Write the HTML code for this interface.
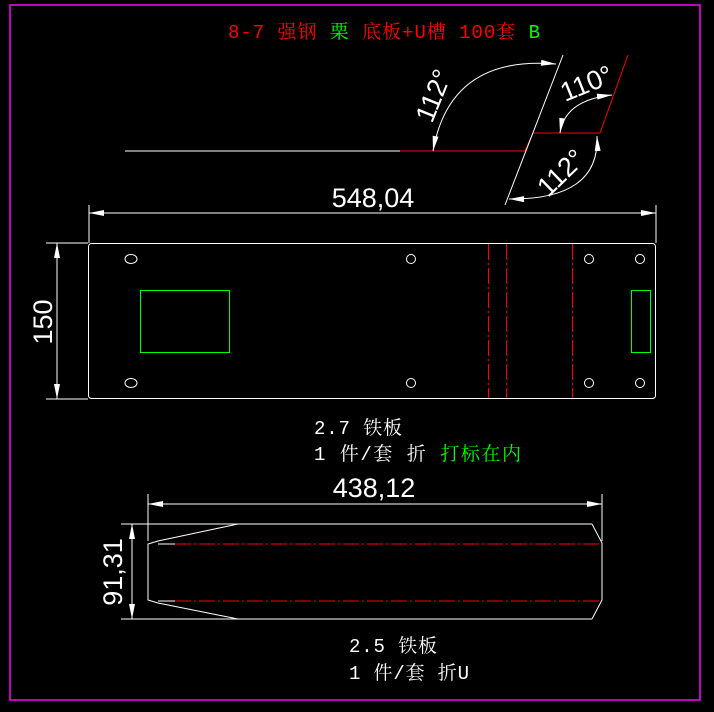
<!DOCTYPE html><html><head><meta charset="utf-8"><style>body{margin:0;background:#000;width:714px;height:707px;overflow:hidden}text{font-family:"Liberation Sans","Noto Sans CJK SC",sans-serif}.m{font-family:"Liberation Mono","Noto Serif CJK SC",monospace}</style></head><body>
<svg width="714" height="707" xmlns="http://www.w3.org/2000/svg">
<defs><marker id="a" viewBox="0 0 10 4" refX="10" refY="2" markerWidth="16" markerHeight="6" markerUnits="userSpaceOnUse" orient="auto-start-reverse"><path d="M0,0L10,2L0,4z" fill="#fff"/></marker></defs>
<rect x="10" y="5" width="690" height="695" fill="none" stroke="#f0f" stroke-width="1.5"/>
<text x="228" y="38" font-size="19" class="m" fill="#f00" textLength="312" lengthAdjust="spacing">8-7 强钢 <tspan fill="#0f0">栗</tspan> 底板+U槽 100套 <tspan fill="#0f0">B</tspan></text>
<g fill="none" stroke-width="1">
<line x1="125" y1="151" x2="400" y2="151" stroke="#fff"/>
<polyline points="400,151 525,151 533,133 600,133 628,55" stroke="#f00"/>
<line x1="563" y1="55" x2="505" y2="205" stroke="#fff"/>
<path d="M433,151 Q450,55 556,64" stroke="#fff" marker-start="url(#a)" marker-end="url(#a)"/>
<path d="M560,133 Q565,100 612,95" stroke="#fff" marker-start="url(#a)" marker-end="url(#a)"/>
<path d="M597,136 Q600,200 509,199" stroke="#fff" marker-start="url(#a)" marker-end="url(#a)"/>
</g>
<text transform="translate(432,124) rotate(-68)" font-size="27" fill="#fff">112°</text>
<text transform="translate(565,102) rotate(-22)" font-size="27" fill="#fff">110°</text>
<text transform="translate(548,198) rotate(-44)" font-size="27" fill="#fff">112°</text>
<g stroke="#fff" fill="none">
<line x1="89" y1="205" x2="89" y2="243"/><line x1="656" y1="205" x2="656" y2="243"/>
<line x1="89" y1="213" x2="656" y2="213" marker-start="url(#a)" marker-end="url(#a)"/>
<line x1="46" y1="243" x2="88" y2="243"/><line x1="46" y1="399" x2="88" y2="399"/>
<line x1="57" y1="243" x2="57" y2="399" marker-start="url(#a)" marker-end="url(#a)"/>
<rect x="88.5" y="243.5" width="567" height="155" rx="3"/>
<ellipse cx="131" cy="259" rx="6" ry="4.5"/><ellipse cx="131" cy="383" rx="6" ry="4.5"/>
<circle cx="411" cy="259" r="4.5"/><circle cx="411" cy="383" r="4.5"/>
<circle cx="589" cy="259" r="4.5"/><circle cx="589" cy="383" r="4.5"/>
<circle cx="640" cy="259" r="4.5"/><circle cx="640" cy="383" r="4.5"/>
</g>
<text x="373" y="207" font-size="27" fill="#fff" text-anchor="middle">548,04</text>
<text transform="translate(52,322) rotate(-90)" font-size="27" fill="#fff" text-anchor="middle">150</text>
<rect x="140.5" y="290.5" width="89" height="62" fill="none" stroke="#0f0"/>
<rect x="631.5" y="290.5" width="19" height="62" fill="none" stroke="#0f0"/>
<g stroke="#f00" stroke-dasharray="16,3,2,3"><line x1="488.5" y1="244" x2="488.5" y2="398"/><line x1="506.5" y1="244" x2="506.5" y2="398"/><line x1="572.5" y1="244" x2="572.5" y2="398"/></g>
<text x="314" y="434" font-size="19" class="m" fill="#fff" textLength="88" lengthAdjust="spacing">2.7 铁板</text>
<text x="314" y="460" font-size="19" class="m" fill="#fff" textLength="207" lengthAdjust="spacing">1 件/套 折 <tspan fill="#0f0">打标在内</tspan></text>
<g stroke="#fff" fill="none">
<line x1="148" y1="494" x2="148" y2="541"/><line x1="602" y1="494" x2="602" y2="541"/>
<line x1="148" y1="504" x2="602" y2="504" marker-start="url(#a)" marker-end="url(#a)"/>
<line x1="121" y1="524" x2="592" y2="524"/><line x1="121" y1="619" x2="592" y2="619"/>
<line x1="132" y1="524" x2="132" y2="619" marker-start="url(#a)" marker-end="url(#a)"/>
<polyline points="238,524 158,541 148,544 148,600 158,603 238,619"/>
<polyline points="592,524 602,543 602,600 592,619"/>
</g>
<g stroke="#f00" stroke-dasharray="16,3,2,3"><line x1="175" y1="544" x2="602" y2="544"/><line x1="175" y1="601" x2="602" y2="601"/></g>
<line x1="158" y1="544" x2="175" y2="544" stroke="#fff"/><line x1="158" y1="601" x2="175" y2="601" stroke="#fff"/>
<text x="374" y="497" font-size="27" fill="#fff" text-anchor="middle">438,12</text>
<text transform="translate(122,572) rotate(-90)" font-size="27" fill="#fff" text-anchor="middle">91,31</text>
<text x="349" y="652" font-size="19" class="m" fill="#fff" textLength="88" lengthAdjust="spacing">2.5 铁板</text>
<text x="349" y="679" font-size="19" class="m" fill="#fff" textLength="120" lengthAdjust="spacing">1 件/套 折U</text>
</svg></body></html>
